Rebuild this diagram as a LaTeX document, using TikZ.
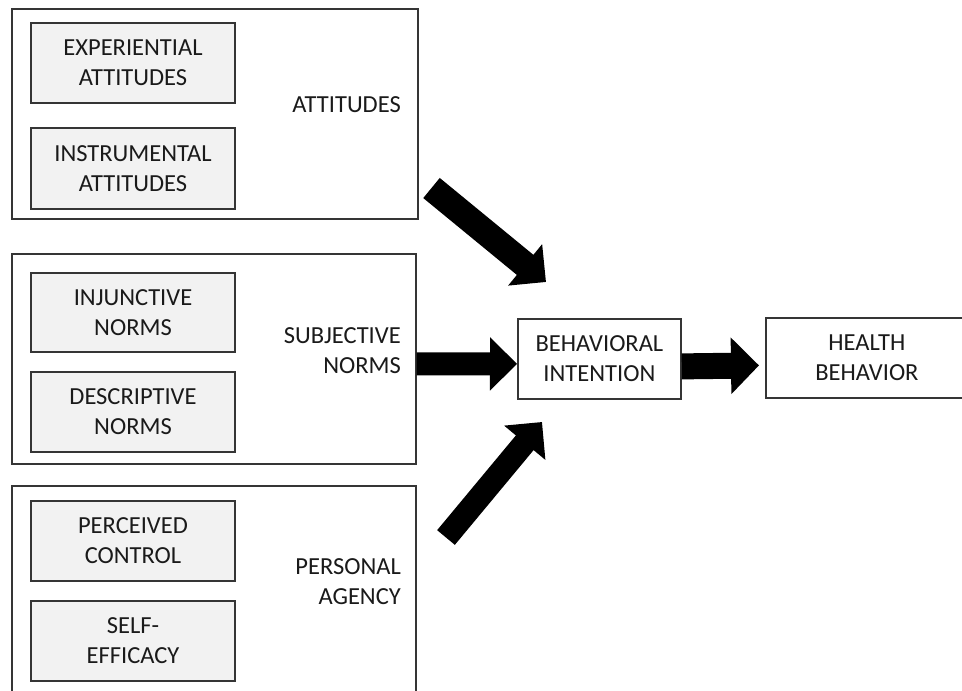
\documentclass[tikz,border=0pt]{standalone}
\usepackage{fontspec}
\setmainfont{Carlito}
\usetikzlibrary{arrows.meta}
\definecolor{txt}{HTML}{1A1A1A}
\definecolor{linec}{HTML}{353535}
\definecolor{boxfill}{HTML}{F2F2F2}
\newcommand\lblfont{\fontsize{24.5pt}{30pt}\selectfont\color{txt}}
\begin{document}
\begin{tikzpicture}[x=1pt,y=-1pt,
  outerbox/.style={draw=linec, line width=1.6pt, inner sep=0pt, anchor=north west, minimum width=405pt, minimum height=210pt},
  innerbox/.style={draw=linec, fill=boxfill, line width=2pt, inner sep=0pt, anchor=north west, minimum width=204pt, minimum height=80pt, align=center, font=\lblfont},
  mainbox/.style={draw=linec, fill=white, line width=1.8pt, inner sep=0pt, anchor=north west, minimum height=80pt, align=center, font=\lblfont},
  grplabel/.style={anchor=east, align=right, inner sep=0pt, font=\lblfont},
  blockarrow/.style={draw=black, line width=24pt, -{Triangle[length=27pt,width=52pt]}}]
\useasboundingbox (0,0) rectangle (962,691);
\clip (0,0) rectangle (962,691);
\fill[white] (0,0) rectangle (962,691);

% group boxes
\node[outerbox, minimum width=406pt] (att) at (11,8) {};
\node[outerbox, minimum width=404pt] (sn) at (11,253) {};
\node[outerbox, minimum width=404pt] (pa) at (11,485) {};

% inner boxes
\node[innerbox] (exp) at (30,22) {EXPERIENTIAL\\ATTITUDES};
\node[innerbox, minimum height=81pt] (ins) at (30,127) {INSTRUMENTAL\\ATTITUDES};
\node[innerbox, minimum height=79pt] (inj) at (30,272) {INJUNCTIVE\\NORMS};
\node[innerbox] (des) at (30,371) {DESCRIPTIVE\\NORMS};
\node[innerbox] (pc) at (30,500) {PERCEIVED\\CONTROL};
\node[innerbox] (se) at (30,600) {SELF-\\EFFICACY};

% group labels
\node[grplabel] (attl) at (401,105) {ATTITUDES};
\node[grplabel] (snl) at (401,351) {SUBJECTIVE\\NORMS};
\node[grplabel] (pal) at (401,582) {PERSONAL\\AGENCY};

% main boxes
\node[mainbox, minimum width=163pt] (bi) at (517,318) {BEHAVIORAL\\INTENTION};
\node[mainbox, minimum width=202pt] (hb) at (765,317) {HEALTH\\BEHAVIOR};

% arrow ends
\coordinate (t1) at (431.5,188);
\coordinate (h1) at (546,282);
\coordinate (t3) at (446,537.5);
\coordinate (h3) at (542,422);

% arrows
\draw[blockarrow, line width=26pt] (t1) -- (h1);
\draw[blockarrow, line width=23pt] ([yshift=-5pt]sn.east) -- ([yshift=-5pt]bi.west);
\draw[blockarrow, line width=23pt] (t3) -- (h3);
\draw[blockarrow, line width=26pt, -{Triangle[length=28pt,width=55pt]}] ([yshift=-7.5pt]bi.east) -- ([xshift=-6pt,yshift=-7.5pt]hb.west);
\end{tikzpicture}
\end{document}
